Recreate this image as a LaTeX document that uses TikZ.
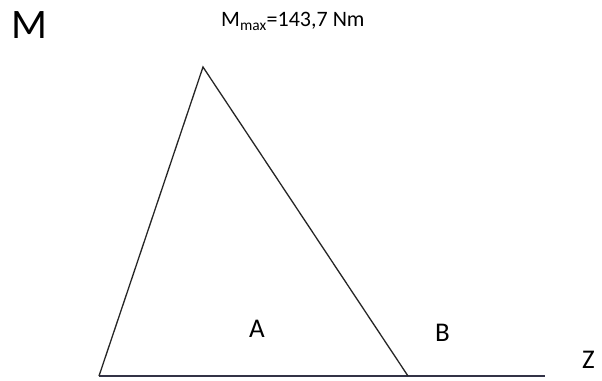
\documentclass[tikz,border=0pt]{standalone}
\usepackage{fontspec}
\setmainfont{Carlito}
\begin{document}
\begin{tikzpicture}[x=1pt,y=-1pt,
  lbl/.style={inner sep=0pt,anchor=base west},
  edge/.style={line width=1.3pt,draw=black!85},
  baseln/.style={line width=1.4pt,draw={rgb,255:red,50;green,50;blue,70}}]
\useasboundingbox[fill=white] (0,0) rectangle (602,380);
\coordinate (L) at (99,376);
\coordinate (T) at (203,67);
\coordinate (R) at (408,376);
\coordinate (E) at (545,376);
\draw[baseln] (L) -- (R) -- (E);
\draw[edge] (L) -- (T) -- (R);
\node[lbl,font=\fontsize{42}{48}\selectfont] (m) at (11,38) {M};
\node[lbl,font=\fontsize{22}{26}\selectfont] (mmax) at (221,27) {M\textsubscript{max}=143,7 Nm};
\node[lbl,font=\fontsize{27}{32}\selectfont] (a) at (249,337) {A};
\node[lbl,font=\fontsize{27}{32}\selectfont] (b) at (435,341) {B};
\node[lbl,font=\fontsize{27}{32}\selectfont] (z) at (582,368) {Z};
\end{tikzpicture}
\end{document}
